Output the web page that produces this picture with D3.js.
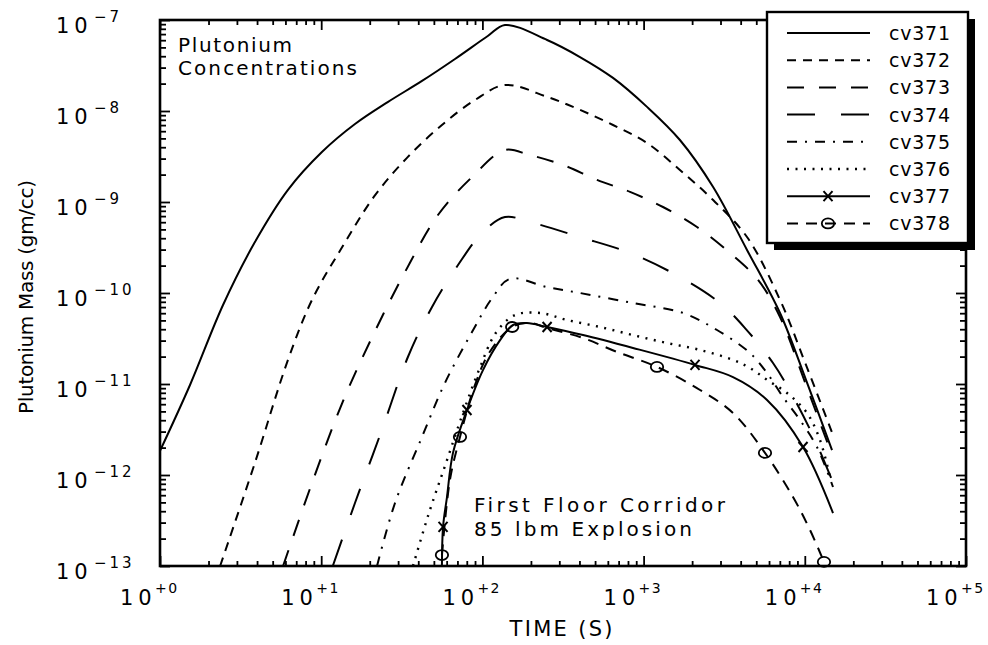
<!DOCTYPE html>
<html lang="en">
  <head>
    <meta charset="UTF-8" />
    <title>Plutonium Concentrations</title>
    <style>
      body {
        margin: 0;
        background: #fff;
      }
      text {
        font-family: 'DejaVu Sans', sans-serif;
        fill: #000;
      }
    </style>
  </head>
  <body>
    <div id="main"></div>
    <script src="https://cdn.jsdelivr.net/npm/d3@7"></script>
    <script>
      // [time (s), mass (gm/cc)]
      const seriesNames = ['cv371', 'cv372', 'cv373', 'cv374', 'cv375', 'cv376', 'cv377', 'cv378']
      const cv371 = [
        [1, 1.84e-12], [1.535, 9.75e-12], [2.46, 7.38e-11], [3.88, 3.63e-10], [6.22, 1.36e-9],
        [10.1, 3.54e-9], [16.2, 7.19e-9], [26, 1.26e-8], [42.2, 2.14e-8], [67.6, 3.73e-8],
        [108, 6.67e-8], [138, 8.81e-8], [252, 6.03e-8], [403, 3.92e-8], [646, 2.31e-8],
        [1050, 1.11e-8], [1680, 4.8e-9], [2700, 1.46e-9], [4380, 2.97e-10], [7020, 6.03e-11],
        [10170, 1.11e-11], [14750, 1.88e-12]
      ]
      const cv372 = [
        [2.36, 1e-13], [3.88, 1.36e-12], [6.22, 1.84e-11], [8.77, 8.4e-11], [13.5, 3.2e-10],
        [21.6, 1.19e-9], [34.5, 3.13e-9], [56.1, 7.02e-9], [89.9, 1.32e-8], [138, 1.93e-8],
        [252, 1.43e-8], [403, 1.03e-8], [646, 7.02e-9], [1050, 4.45e-9], [1680, 2.25e-9],
        [2700, 1.05e-9], [4380, 4.12e-10], [7020, 8.4e-11], [10170, 1.62e-11], [14960, 2.75e-12]
      ]
      const cv373 = [
        [5.8, 1e-13], [8.77, 8.17e-13], [13.5, 6.18e-12], [20.7, 3.28e-11], [33.1, 1.7e-10],
        [53, 7.19e-10], [86.2, 1.88e-9], [138, 3.73e-9], [197, 3.28e-9], [316, 2.55e-9],
        [514, 1.75e-9], [824, 1.29e-9], [1319, 8.81e-10], [2145, 5.31e-10], [3435, 2.75e-10],
        [5128, 1.39e-10], [7020, 5.45e-11], [10170, 9.75e-12], [14750, 1.66e-12]
      ]
      const cv374 = [
        [11.8, 1e-13], [16.2, 4.92e-13], [23.8, 3.13e-12], [34.5, 1.98e-11], [48.7, 7.02e-11],
        [70.6, 2.03e-10], [99.5, 4.56e-10], [138, 6.84e-10], [197, 6.03e-10], [403, 4.12e-10],
        [824, 2.75e-10], [1680, 1.5e-10], [2979, 7.76e-11], [4256, 4.12e-11], [6350, 1.7e-11],
        [8690, 6.67e-12], [11560, 2.43e-12], [14750, 8.81e-13]
      ]
      const cv375 = [
        [22.2, 1e-13], [28.7, 4.92e-13], [42.2, 2.62e-12], [58.6, 1.03e-11], [86.2, 3.72e-11],
        [115, 8.81e-11], [148, 1.43e-10], [252, 1.16e-10], [403, 1e-10], [859, 7.76e-11],
        [1755, 6.03e-11], [2853, 3.92e-11], [4571, 2.19e-11], [5830, 1.32e-11], [7326, 7.19e-12],
        [9330, 4.02e-12], [11900, 2.03e-12], [14960, 7.38e-13]
      ]
      const cv376 = [
        [37.1, 1e-13], [46.6, 3.82e-13], [59.5, 1.36e-12], [75.8, 4.8e-12], [95.3, 1.43e-11],
        [121, 3.63e-11], [159, 5.73e-11], [228, 6.03e-11], [335, 5.05e-11], [537, 4.23e-11],
        [859, 3.45e-11], [1397, 2.82e-11], [2239, 2.37e-11], [3587, 1.84e-11], [4571, 1.5e-11],
        [5830, 1.11e-11], [7760, 7.96e-12], [10320, 4.8e-12], [12420, 2.43e-12], [14330, 9.5e-13]
      ]
      const cv377 = [
        [56.1, 1e-13], [57, 2.69e-13], [60.3, 5.73e-13], [65.7, 1.75e-12], [80.2, 5.18e-12],
        [101, 1.43e-11], [129, 3.05e-11], [155, 4.45e-11], [189, 4.68e-11], [252, 4.23e-11],
        [421, 3.45e-11], [859, 2.49e-11], [2084, 1.62e-11], [3587, 1.19e-11], [5830, 6.67e-12],
        [9750, 2.03e-12], [14960, 3.82e-13]
      ]
      const cv378 = [
        [56.1, 1.32e-13], [62.9, 8.81e-13], [72.6, 2.62e-12], [89.9, 9.75e-12], [111, 2.25e-11],
        [153, 4.23e-11], [197, 4.68e-11], [252, 4.12e-11], [421, 3.2e-11], [684, 2.25e-11],
        [1211, 1.54e-11], [2239, 8.59e-12], [3587, 4.8e-12], [5663, 1.75e-12], [8450, 5.73e-13],
        [10770, 2.49e-13], [13150, 1.11e-13]
      ]
      // which points carry a symbol
      const cv377Marks = [1, 4, 9, 12, 15]
      const cv378Marks = [0, 2, 5, 10, 13, 16]

      const xTickExps = [0, 1, 2, 3, 4, 5]
      const yTickExps = [-7, -8, -9, -10, -11, -12, -13]

      const seriesData = [cv371, cv372, cv373, cv374, cv375, cv376, cv377, cv378]
      const seriesMarks = [[], [], [], [], [], [], cv377Marks, cv378Marks]
      const markType = [null, null, null, null, null, null, 'x', 'o']
      const dashes = ['', '9,7', '17,15', '28,26', '10,8,2,8', '2,6.5', '', '11,8']

      const [width, height] = [988, 645]
      const plot = { left: 160, right: 966, top: 20, bottom: 566 }

      const svg = d3
        .select('#main')
        .append('svg')
        .attr('width', width)
        .attr('height', height)
        .attr('viewBox', `0 0 ${width} ${height}`)

      const xScale = d3.scaleLog().domain([1, 1e5]).range([plot.left, plot.right])
      const yScale = d3.scaleLog().domain([1e-13, 1e-7]).range([plot.bottom, plot.top])

      const isMajor = d => Math.abs(Math.log10(d) - Math.round(Math.log10(d))) < 1e-6

      // inside ticks on all four sides
      const axisDefs = [
        { gen: d3.axisTop(xScale), at: `translate(0, ${plot.bottom})`, attr: 'y2', sign: -1, maj: 10, min: 5 },
        { gen: d3.axisBottom(xScale), at: `translate(0, ${plot.top})`, attr: 'y2', sign: 1, maj: 10, min: 5 },
        { gen: d3.axisRight(yScale), at: `translate(${plot.left}, 0)`, attr: 'x2', sign: 1, maj: 10, min: 6 },
        { gen: d3.axisLeft(yScale), at: `translate(${plot.right}, 0)`, attr: 'x2', sign: -1, maj: 10, min: 6 }
      ]
      axisDefs.forEach(a => {
        const g = svg
          .append('g')
          .attr('transform', a.at)
          .call(a.gen.tickFormat('').tickSizeOuter(0))
        g.select('.domain').remove()
        g.selectAll('.tick line')
          .attr(a.attr, d => a.sign * (isMajor(d) ? a.maj : a.min))
          .attr('stroke', '#000')
          .attr('stroke-width', 1.8)
      })

      svg
        .append('rect')
        .attr('x', plot.left)
        .attr('y', plot.top)
        .attr('width', plot.right - plot.left)
        .attr('height', plot.bottom - plot.top)
        .attr('fill', 'none')
        .attr('stroke', '#000')
        .attr('stroke-width', 2.6)

      // tick labels as 10 with a superscript
      const xLab = svg.append('g')
      xTickExps.forEach(e => {
        const tx = xScale(Math.pow(10, e))
        xLab.append('text')
          .attr('x', tx - 40).attr('y', 605)
          .style('font-size', '21px').style('letter-spacing', '5px')
          .text('10')
        xLab.append('text')
          .attr('x', tx - 5).attr('y', 593)
          .style('font-size', '14px').style('letter-spacing', '1.5px')
          .text('+' + e)
      })
      const yLab = svg.append('g')
      yTickExps.forEach(e => {
        const ty = yScale(Math.pow(10, e))
        yLab.append('text')
          .attr('x', 56).attr('y', ty + 13)
          .style('font-size', '21px').style('letter-spacing', '5px')
          .text('10')
        yLab.append('text')
          .attr('x', 94).attr('y', ty + 2)
          .style('font-size', '15px').style('letter-spacing', '3px')
          .text('\u2212' + Math.abs(e))
      })

      svg.append('text')
        .attr('x', 561).attr('y', 636)
        .attr('text-anchor', 'middle')
        .attr('textLength', 103).attr('lengthAdjust', 'spacing')
        .style('font-size', '21px')
        .text('TIME  (S)')

      svg.append('text')
        .attr('transform', 'translate(33, 297) rotate(-90)')
        .attr('text-anchor', 'middle')
        .attr('textLength', 234).attr('lengthAdjust', 'spacing')
        .style('font-size', '20px')
        .text('Plutonium Mass (gm/cc)')

      // curves
      svg.append('clipPath').attr('id', 'clip')
        .append('rect')
        .attr('x', plot.left).attr('y', plot.top)
        .attr('width', plot.right - plot.left).attr('height', plot.bottom - plot.top)

      const line = d3
        .line()
        .x(d => xScale(d[0]))
        .y(d => yScale(d[1]))
        .curve(d3.curveCatmullRom.alpha(0.5))

      const curves = svg.append('g').attr('clip-path', 'url(#clip)')
      curves
        .selectAll('path')
        .data(seriesData)
        .join('path')
        .attr('d', line)
        .attr('fill', 'none')
        .attr('stroke', '#000')
        .attr('stroke-width', (_, i) => (i === 5 ? 2.4 : 2))
        .attr('stroke-dasharray', (_, i) => dashes[i] || null)

      const drawMark = (g, type, cx, cy) => {
        if (type === 'x') {
          g.append('path')
            .attr('d', `M${cx - 4.5},${cy - 5}L${cx + 4.5},${cy + 5}M${cx - 4.5},${cy + 5}L${cx + 4.5},${cy - 5}`)
            .attr('stroke', '#000').attr('stroke-width', 2).attr('fill', 'none')
        } else {
          g.append('ellipse')
            .attr('cx', cx).attr('cy', cy).attr('rx', 6.2).attr('ry', 5)
            .attr('stroke', '#000').attr('stroke-width', 1.8).attr('fill', 'none')
        }
      }

      const marks = svg.append('g')
      seriesData.forEach((s, i) => {
        seriesMarks[i].forEach(k => drawMark(marks, markType[i], xScale(s[k][0]), yScale(s[k][1])))
      })

      // notes inside the plot
      const note = (x, y, len, str) =>
        svg.append('text')
          .attr('x', x).attr('y', y)
          .attr('textLength', len).attr('lengthAdjust', 'spacing')
          .style('font-size', '20px')
          .text(str)
      note(178, 52, 114, 'Plutonium')
      note(178, 75, 179, 'Concentrations')
      note(474, 512, 251, 'First  Floor  Corridor')
      note(474, 536, 218, '85  lbm  Explosion')

      // legend
      const legend = { x: 767, y: 12, w: 201, h: 231 }
      svg.append('rect')
        .attr('x', legend.x + 7).attr('y', legend.y + 7)
        .attr('width', legend.w).attr('height', legend.h)
        .attr('fill', '#000')
      svg.append('rect')
        .attr('x', legend.x).attr('y', legend.y)
        .attr('width', legend.w).attr('height', legend.h)
        .attr('fill', '#fff')
        .attr('stroke', '#000')
        .attr('stroke-width', 2.4)

      const rows = svg
        .append('g')
        .selectAll('g')
        .data(seriesNames)
        .join('g')
        .attr('transform', (_, i) => `translate(0, ${33 + i * 27.2})`)

      rows.append('line')
        .attr('x1', 787).attr('x2', 870)
        .attr('stroke', '#000')
        .attr('stroke-width', (_, i) => (i === 5 ? 2.4 : 2))
        .attr('stroke-dasharray', (_, i) => dashes[i] || null)

      rows.append('text')
        .attr('x', 889).attr('y', 7)
        .attr('textLength', 61).attr('lengthAdjust', 'spacing')
        .style('font-size', '19px')
        .text(d => d)

      rows.each(function (_, i) {
        if (markType[i]) drawMark(d3.select(this), markType[i], 828, 0)
      })
    </script>
  </body>
</html>
